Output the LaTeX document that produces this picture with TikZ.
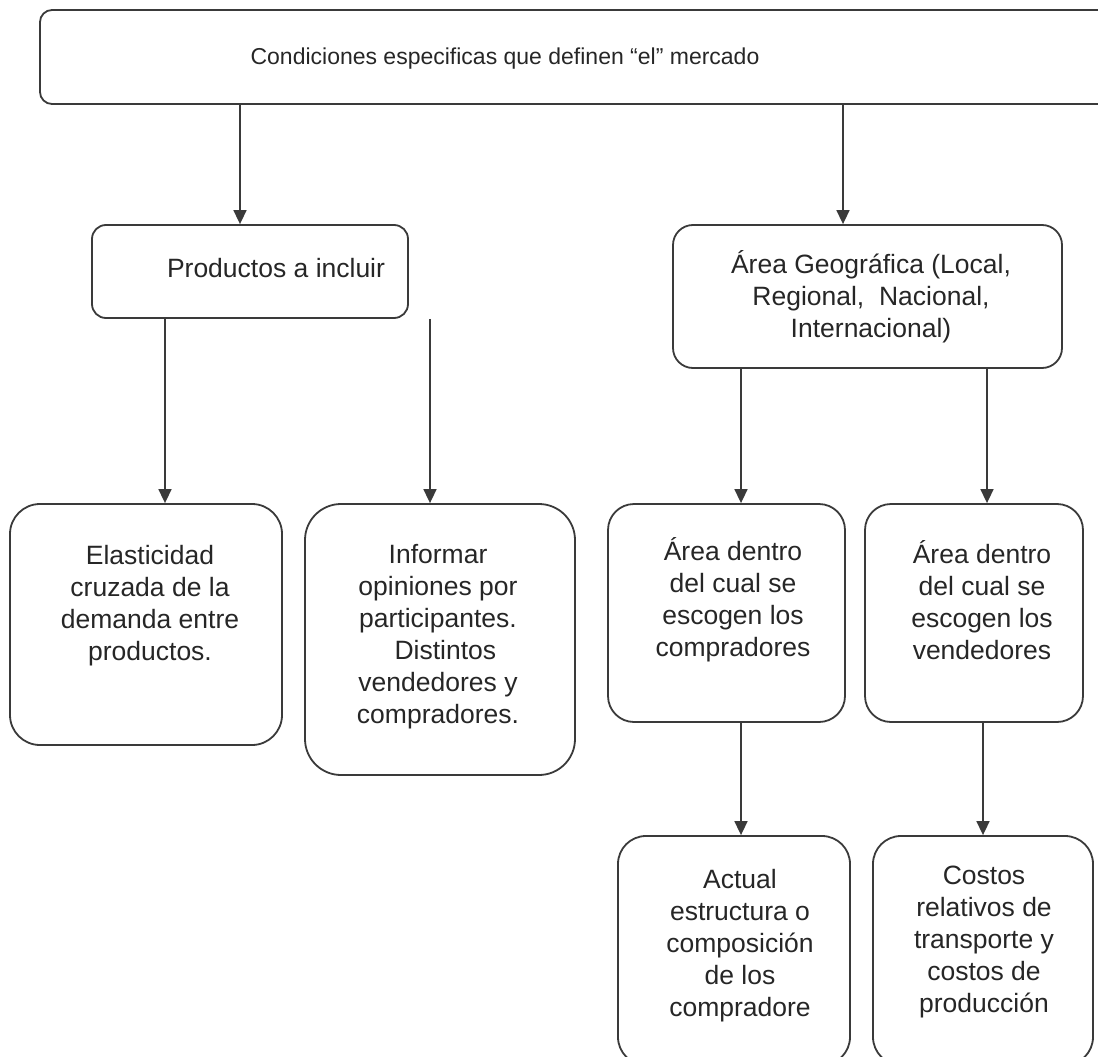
\documentclass[tikz,border=0pt]{standalone}
\usepackage{fontspec}
\setmainfont{Liberation Sans}
\usetikzlibrary{arrows.meta}
\definecolor{ink}{HTML}{3A3A3A}
\begin{document}
\begin{tikzpicture}[x=1pt,y=-1pt,
  box/.style={draw=ink,line width=1.8pt,rounded corners=#1,minimum width=0,minimum height=0,inner sep=0},
  box/.default=24pt,
  txt/.style={align=center,inner sep=0,font=\fontsize{26.5}{32}\selectfont,text=black!85},
  arr/.style={draw=ink,line width=1.6pt,-{Triangle[length=14pt,width=13pt]}}]
\useasboundingbox (0,0) rectangle (1098,1057);
\begin{scope}
\clip (0,0) rectangle (1098,1057);
% boxes
\node[box=12pt,minimum width=1075pt,minimum height=94pt] (top) at (577.5,57) {};
\node[box=14pt,minimum width=316pt,minimum height=93pt] (prod) at (250,271.5) {};
\node[box=20pt,minimum width=389pt,minimum height=143pt] (geo) at (867.5,296.5) {};
\node[box=30pt,minimum width=272pt,minimum height=241pt] (elas) at (146,624.5) {};
\node[box=36pt,minimum width=270pt,minimum height=271pt] (info) at (440,639.5) {};
\node[box=26pt,minimum width=237pt,minimum height=218pt] (comp) at (726.5,613) {};
\node[box=26pt,minimum width=218pt,minimum height=218pt] (vend) at (974,613) {};
\node[box=28pt,minimum width=232pt,minimum height=229pt] (act) at (734,950.5) {};
\node[box=28pt,minimum width=220pt,minimum height=229pt] (cost) at (983,950.5) {};
% texts
\node[txt,font=\fontsize{23}{28}\selectfont] (ttop) at (505,59) {Condiciones especificas que definen “el” mercado};
\node[txt] (tprod) at (276,268) {Productos a incluir};
\node[txt] (tgeo) at (871,297) {Área Geográfica (Local,\\Regional,\ \ Nacional,\\Internacional)};
\node[txt] (tedge) at (150,606) {Elasticidad\\cruzada de la\\demanda entre\\productos.};
\node[txt] (tinfo) at (438,637) {Informar\\opiniones por\\participantes.\\\ \ Distintos\\vendedores y\\compradores.};
\node[txt] (tcomp) at (733,600) {Área dentro\\del cual se\\escogen los\\compradores};
\node[txt] (tvend) at (982,600) {Área dentro\\del cual se\\escogen los\\vendedores};
\node[txt] (tact) at (740,946) {Actual\\estructura o\\composición\\de los\\compradore};
\node[txt] (tcost) at (984,942) {Costos\\relativos de\\transporte y\\costos de\\producción};
% connectors
\draw[arr] (top.south -| 240,0) -- (prod.north -| 240,0);
\draw[arr] (top.south -| 843,0) -- (geo.north -| 843,0);
\draw[arr] (prod.south -| 165,0) -- (elas.north -| 165,0);
\draw[arr] (prod.south -| 430,0) -- (info.north -| 430,0);
\draw[arr] (geo.south -| 741,0) -- (comp.north -| 741,0);
\draw[arr] (geo.south -| 987,0) -- (vend.north -| 987,0);
\draw[arr] (comp.south -| 741,0) -- (act.north -| 741,0);
\draw[arr] (vend.south -| 983,0) -- (cost.north -| 983,0);
\end{scope}
\end{tikzpicture}
\end{document}
